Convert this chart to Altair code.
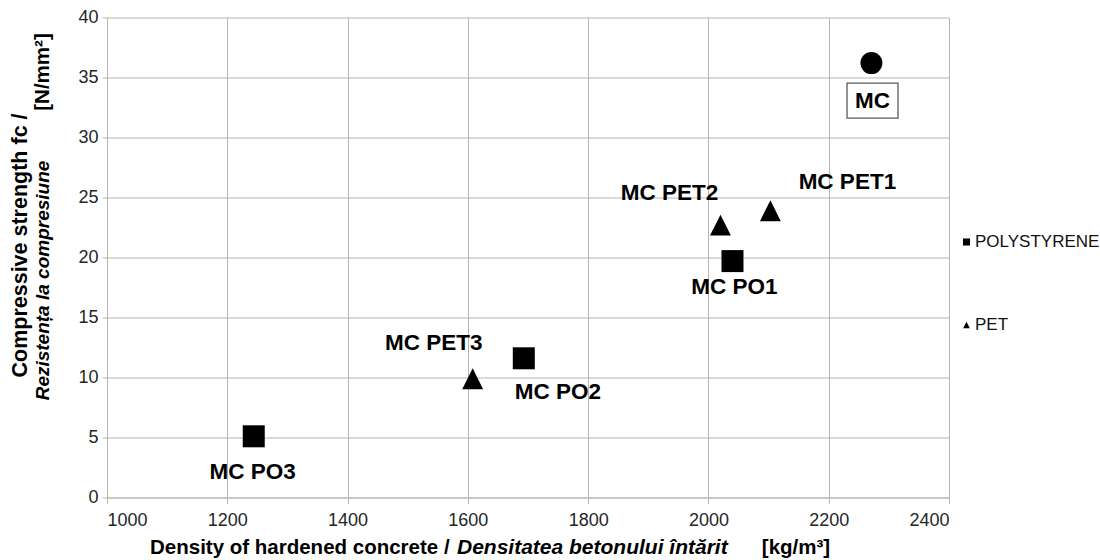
import altair as alt
import pandas as pd

# Concrete mixes: density of hardened concrete vs compressive strength
samples = ["MC PO3", "MC PET3", "MC PO2", "MC PET2", "MC PO1", "MC PET1", "MC"]
density = [1244, 1608, 1693, 2020, 2040, 2103, 2271]
strength = [5.1, 9.9, 11.6, 22.7, 19.7, 23.9, 36.2]
material = ["POLYSTYRENE", "PET", "POLYSTYRENE", "PET", "POLYSTYRENE", "PET", "REFERENCE"]

x_ticks = [1000, 1200, 1400, 1600, 1800, 2000, 2200, 2400]
y_ticks = [0, 5, 10, 15, 20, 25, 30, 35, 40]
legend_order = ["POLYSTYRENE", "PET"]

df = pd.DataFrame({"sample": samples, "density": density,
                   "strength": strength, "material": material})

FONT = "Liberation Sans"
GRID = "#b5b5b5"
TRIANGLE = "M0,-0.95L0.95,0.95L-0.95,0.95Z"

# pixel offsets of each data label from its marker
label_offsets = {
    "MC PO3": (-1, 36),
    "MC PET3": (-39, -36),
    "MC PO2": (34, 34),
    "MC PO1": (2, 26),
    "MC PET2": (-51, -32),
    "MC PET1": (77, -29),
    "MC": (1, 38),
}

x_enc = alt.X("density:Q",
              scale=alt.Scale(domain=[1000, 2400], nice=False, zero=False),
              axis=alt.Axis(values=x_ticks, title=None, tickSize=6, format="d",
                            labelPadding=8, labelFontSize=18))
y_enc = alt.Y("strength:Q",
              scale=alt.Scale(domain=[0, 40], nice=False),
              axis=alt.Axis(values=y_ticks, title=None, tickSize=5, format="d",
                            labelPadding=4, labelFontSize=18))

base = alt.Chart(df)

markers = base.transform_filter(
    alt.FieldOneOfPredicate(field="material", oneOf=legend_order)
).mark_point(filled=True, color="black", opacity=1, size=484).encode(
    x=x_enc, y=y_enc,
    shape=alt.Shape("material:N",
                    scale=alt.Scale(domain=legend_order, range=["square", TRIANGLE]),
                    legend=alt.Legend(title=None, orient="none", legendX=851, legendY=216,
                                      padding=0, rowPadding=65, labelFontSize=17,
                                      labelFont=FONT, labelColor="#111111",
                                      labelOffset=0, symbolSize=50,
                                      symbolFillColor="black", symbolStrokeWidth=0)),
)

reference = base.transform_filter(alt.datum.material == "REFERENCE").mark_point(
    filled=True, color="black", opacity=1, shape="circle", size=484
).encode(x=x_enc, y=y_enc)

# frame around the reference mix label
ref_box = base.transform_filter(alt.datum.material == "REFERENCE").mark_point(
    shape="M-1.394,1.143L1.52,1.143L1.52,3.143L-1.394,3.143Z",
    size=1225, filled=False, stroke="#5a5a5a", strokeWidth=1.3, opacity=1
).encode(x=x_enc, y=y_enc)

labels = []
for name, (dx, dy) in label_offsets.items():
    labels.append(
        base.transform_filter(alt.datum.sample == name).mark_text(
            dx=dx, dy=dy, font=FONT, fontSize=22.5, fontWeight="bold",
            color="black", align="center", baseline="middle"
        ).encode(x=x_enc, y=y_enc, text="sample:N")
    )

one = pd.DataFrame({"k": [0]})


def title_text(text, x, y, italic=False, angle=0, align="left", size=20.5):
    kw = dict(text=text, font=FONT, fontSize=size, fontWeight="bold",
              color="black", align=align, baseline="middle")
    if italic:
        kw["fontStyle"] = "italic"
    if angle:
        kw["angle"] = angle
    return alt.Chart(one).mark_text(**kw).encode(x=alt.value(x), y=alt.value(y))


titles = [
    title_text("Density of hardened concrete /", 43, 530.5),
    title_text("Densitatea betonului întărit", 350, 530.5, italic=True, size=21),
    title_text("[kg/m³]", 689, 530.5, align="center"),
    title_text("Compressive strength fc /", -86, 228, angle=270, align="center", size=21.5),
    title_text("Rezistența la compresiune", -64, 263, italic=True, angle=270,
               align="center", size=19),
    title_text("[N/mm²]", -64, 54.5, angle=270, align="center"),
]

chart = alt.layer(markers, reference, ref_box, *labels, *titles).properties(
    width=842, height=480,
    autosize=alt.AutoSizeParams(type="none"),
    padding={"left": 107, "top": 17.5, "right": 151, "bottom": 62.5},
    background="white",
).configure_view(strokeWidth=0).configure_axis(
    gridColor=GRID, gridWidth=1, domainColor=GRID, tickColor=GRID,
    labelFont=FONT, labelColor="#262626",
)

chart.save("out.html", embed_options={"renderer": "svg", "actions": False})
